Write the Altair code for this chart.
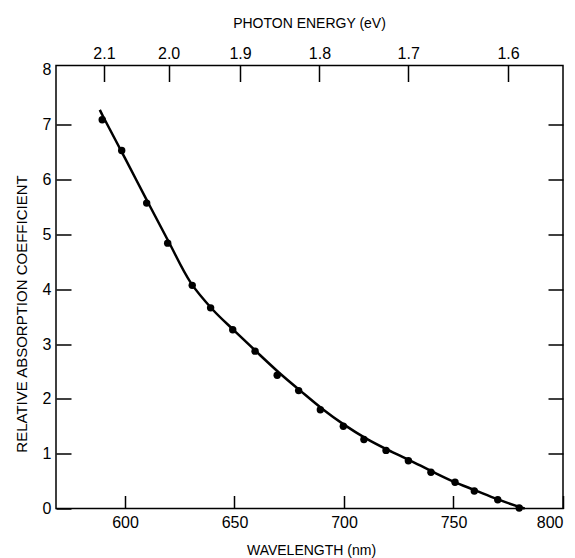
import altair as alt
import pandas as pd

# measured points (wavelength in nm, relative absorption coefficient)
point_wl = [589.6, 598.5, 609.9, 619.5, 630.7, 639.1, 649.2, 659.4, 669.5, 679.3,
            689.2, 699.7, 709.1, 719.2, 729.4, 739.7, 750.7, 759.5, 770.2, 780.0]
point_val = [7.09, 6.53, 5.57, 4.84, 4.07, 3.66, 3.26, 2.87, 2.43, 2.15,
             1.80, 1.50, 1.26, 1.06, 0.87, 0.66, 0.48, 0.32, 0.16, 0.01]

# smooth fitted curve
curve_wl = [588.5, 590, 600, 610, 620, 630, 640, 650, 660, 670, 680,
            690, 700, 710, 720, 730, 740, 750, 760, 770, 780, 782.5]
curve_val = [7.27, 7.15, 6.39, 5.62, 4.86, 4.12, 3.63, 3.24, 2.86, 2.49, 2.15,
             1.82, 1.53, 1.28, 1.07, 0.88, 0.68, 0.49, 0.33, 0.17, 0.03, 0.0]

x_ticks = [600, 650, 700, 750, 800]
y_ticks = [0, 1, 2, 3, 4, 5, 6, 7, 8]
right_ticks = [1, 2, 3, 4, 5, 6, 7]
energy_ticks = [2.1, 2.0, 1.9, 1.8, 1.7, 1.6]
HC = 1239.84  # eV*nm
energy_tick_wl = [HC / e for e in energy_ticks]

FONT = "Liberation Sans, Arial, sans-serif"

pts = pd.DataFrame({"wl": point_wl, "val": point_val})
crv = pd.DataFrame({"wl": curve_wl, "val": curve_val})

xdom = [568.5, 800]
ydom = [0, 8.08]

line = alt.Chart(crv).mark_line(
    color="black", strokeWidth=2.5, interpolate="catmull-rom"
).encode(
    x=alt.X("wl:Q", scale=alt.Scale(domain=xdom, nice=False, zero=False),
            axis=alt.Axis(orient="bottom", values=x_ticks, offset=-13, tickSize=13,
                          labelPadding=6, title="WAVELENGTH (nm)",
                          titleX=255, titleY=59, titleBaseline="alphabetic",
                          titleFontSize=14, titleAlign="center")),
    y=alt.Y("val:Q", scale=alt.Scale(domain=ydom, nice=False, zero=True),
            axis=alt.Axis(orient="left", values=y_ticks, offset=-15, tickSize=15,
                          labelPadding=5,
                          tickOpacity={"condition": {"test": "datum.value >= 8", "value": 0}, "value": 1},
                          title="RELATIVE ABSORPTION COEFFICIENT",
                          titleX=-50, titleY=248, titleBaseline="middle",
                          titleFontSize=15, titleAngle=270, titleAlign="center")),
)

points = alt.Chart(pts).mark_circle(color="black", size=55, opacity=1).encode(
    x=alt.X("wl:Q", scale=alt.Scale(domain=xdom, nice=False, zero=False),
            axis=alt.Axis(orient="top", values=energy_tick_wl, offset=-16, tickSize=16,
                          labelPadding=4,
                          labelExpr="format(1239.84 / datum.value, '.1f')",
                          title="PHOTON ENERGY (eV)",
                          titleX=253, titleY=-54, titleBaseline="alphabetic",
                          titleFontSize=14, titleAlign="center")),
    y=alt.Y("val:Q", scale=alt.Scale(domain=ydom, nice=False, zero=True),
            axis=alt.Axis(orient="right", values=right_ticks, offset=-15, tickSize=15,
                          labels=False, title=None)),
)

chart = alt.layer(line, points).resolve_scale(
    x="independent", y="independent"
).properties(
    width=507, height=443,
    autosize=alt.AutoSizeParams(type="none"),
    padding={"left": 48, "top": 57.5, "right": 4, "bottom": 49},
    background="white",
).configure_view(
    stroke="black", strokeWidth=1.5
).configure_axis(
    grid=False, domain=False,
    labelFont=FONT, titleFont=FONT,
    labelFontSize=16, titleFontWeight="normal",
    labelColor="black", titleColor="black",
    tickColor="black", tickWidth=1.5,
)

chart.save("out.html", embed_options={"renderer": "svg", "actions": False})
